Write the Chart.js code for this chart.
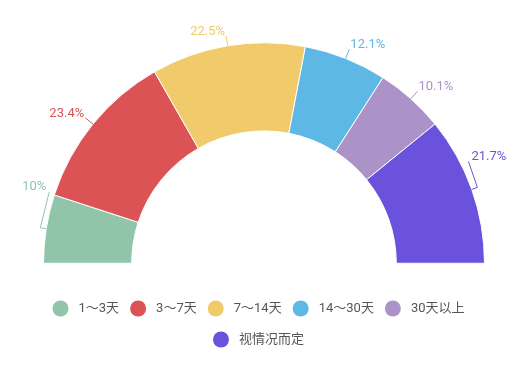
<!DOCTYPE html>
<html>
<head>
<meta charset="utf-8">
<script src="https://cdn.jsdelivr.net/npm/chart.js@4"></script>
<style>
  html, body { margin: 0; padding: 0; background: #fff; }
  #wrap { width: 530px; height: 367px; position: relative; }
</style>
</head>
<body>
<div id="wrap"><canvas id="daysChart"></canvas></div>
<script>
// data
const categories = ['1～3天', '3～7天', '7～14天', '14～30天', '30天以上', '视情况而定'];
const shares = [10, 23.4, 22.5, 12.1, 10.1, 21.7];
const sliceColors = ['#90c5a9', '#dc5356', '#f0ca6b', '#5eb8e6', '#ab93c8', '#6b52dc'];

// labels pushed up to avoid the edge (px)
const labelShift = [-36, 0, 0, 0, 0, -26];

const FONT = 'Roboto, "Noto Sans CJK SC", sans-serif';

const sliceLabels = {
  id: 'sliceLabels',
  afterDatasetsDraw(chart) {
    const ctx = chart.ctx;
    const meta = chart.getDatasetMeta(0);
    ctx.save();
    ctx.font = '13px ' + FONT;
    ctx.lineWidth = 1;
    ctx.textBaseline = 'middle';
    meta.data.forEach((arc, i) => {
      const p = arc.getProps(['x', 'y', 'startAngle', 'endAngle', 'outerRadius']);
      const mid = (p.startAngle + p.endAngle) / 2;
      const cos = Math.cos(mid), sin = Math.sin(mid);
      const side = cos < 0 ? -1 : 1;
      const x0 = p.x + cos * p.outerRadius, y0 = p.y + sin * p.outerRadius;
      ctx.strokeStyle = sliceColors[i];
      ctx.fillStyle = sliceColors[i];
      ctx.beginPath();
      ctx.moveTo(x0, y0);
      let tx, ty;
      if (labelShift[i]) {
        const x1 = p.x + cos * (p.outerRadius + 6), y1 = p.y + sin * (p.outerRadius + 6);
        const x2 = x1 - side * 9, y2 = y1 + labelShift[i];
        ctx.lineTo(x1, y1);
        ctx.lineTo(x2, y2);
        tx = x2 + side * 3;
        ty = y2 - 5;
      } else {
        const x1 = p.x + cos * (p.outerRadius + 10), y1 = p.y + sin * (p.outerRadius + 10);
        ctx.lineTo(x1, y1);
        tx = x1 + side * 1;
        ty = y1 - 4.5;
      }
      ctx.stroke();
      ctx.textAlign = side < 0 ? 'right' : 'left';
      ctx.fillText(shares[i] + '%', tx, ty);
    });
    ctx.restore();
  }
};

const bottomLegend = {
  id: 'bottomLegend',
  afterDraw(chart) {
    const ctx = chart.ctx;
    const area = chart.chartArea;
    const cx = (area.left + area.right) / 2;
    const r = 8, textGap = 10, itemGap = 11;
    ctx.save();
    ctx.font = '13px ' + FONT;
    ctx.textBaseline = 'middle';
    ctx.textAlign = 'left';
    const items = categories.map((c, i) => ({ text: c, color: sliceColors[i], w: 2 * r + textGap + ctx.measureText(c).width + itemGap }));
    const rows = [];
    let row = [], rowW = 0;
    items.forEach(it => {
      if (row.length && rowW + it.w > area.width) { rows.push(row); row = []; rowW = 0; }
      row.push(it); rowW += it.w;
    });
    rows.push(row);
    rows.forEach((rw, ri) => {
      const total = rw.reduce((s, it) => s + it.w, 0);
      let x = cx - total / 2;
      const y = 308.5 + ri * 31;
      rw.forEach(it => {
        ctx.fillStyle = it.color;
        ctx.beginPath();
        ctx.arc(x + r, y, r, 0, Math.PI * 2);
        ctx.fill();
        ctx.fillStyle = '#555';
        ctx.fillText(it.text, x + 2 * r + textGap, y);
        x += it.w;
      });
    });
    ctx.restore();
  }
};

new Chart(document.getElementById('daysChart'), {
  type: 'doughnut',
  data: {
    labels: categories,
    datasets: [{
      data: shares,
      backgroundColor: sliceColors,
      borderColor: '#fff',
      borderWidth: 1,
      hoverOffset: 0
    }]
  },
  options: {
    responsive: true,
    maintainAspectRatio: false,
    animation: false,
    rotation: -90,
    circumference: 180,
    cutout: '60%',
    layout: { padding: { left: 43, right: 45, top: 42, bottom: 103 } },
    plugins: {
      legend: { display: false },
      tooltip: { enabled: false }
    }
  },
  plugins: [sliceLabels, bottomLegend]
});
</script>
</body>
</html>
